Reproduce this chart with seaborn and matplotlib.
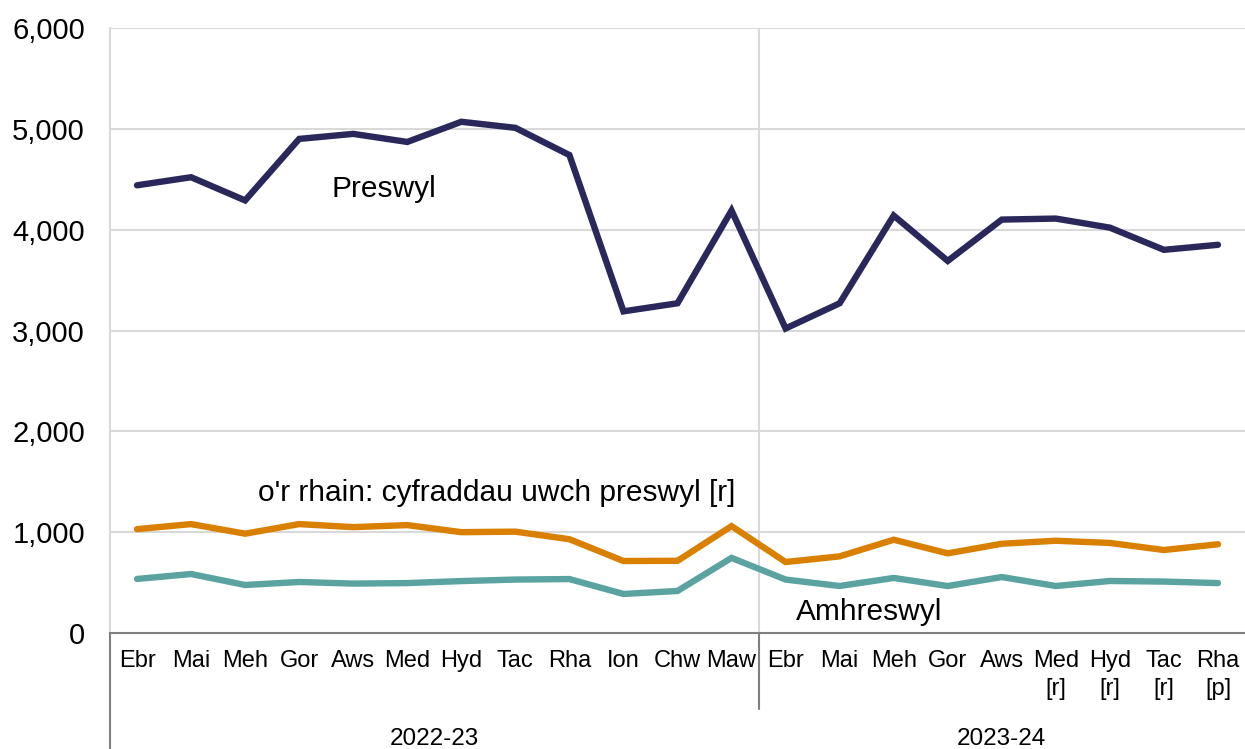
import numpy as np
import pandas as pd
import matplotlib
matplotlib.use("Agg")
import matplotlib.pyplot as plt
import matplotlib.transforms as mtrans
import seaborn as sns

months = ["Ebr", "Mai", "Meh", "Gor", "Aws", "Med", "Hyd", "Tac", "Rha", "Ion", "Chw", "Maw",
          "Ebr", "Mai", "Meh", "Gor", "Aws", "Med\n[r]", "Hyd\n[r]", "Tac\n[r]", "Rha\n[p]"]
years = ["2022-23", "2023-24"]

preswyl = [4440, 4520, 4290, 4900, 4950, 4870, 5070, 5010, 4740, 3190, 3270, 4190,
           3020, 3270, 4140, 3690, 4100, 4110, 4020, 3800, 3850]
uwch = [1030, 1080, 985, 1080, 1050, 1070, 1000, 1005, 930, 714, 716, 1060,
        704, 760, 925, 790, 885, 915, 893, 823, 880]
amhreswyl = [536, 585, 476, 506, 490, 495, 515, 530, 535, 387, 417, 745,
             530, 466, 546, 466, 555, 466, 516, 510, 495]

names = ["Preswyl", "o'r rhain: cyfraddau uwch preswyl [r]", "Amhreswyl"]
colors = ["#2a285b", "#d98000", "#5aa3a1"]

idx = np.arange(len(months))
df = pd.concat([
    pd.DataFrame({"x": idx, "value": preswyl, "series": names[0]}),
    pd.DataFrame({"x": idx, "value": uwch, "series": names[1]}),
    pd.DataFrame({"x": idx, "value": amhreswyl, "series": names[2]}),
])

sns.set_theme(style="white")
plt.rcParams["font.family"] = ["Liberation Sans", "DejaVu Sans"]

fig = plt.figure(figsize=(12.45, 7.49), dpi=100)
ax = fig.add_axes([110 / 1245, 116 / 749, 1135 / 1245, 605 / 749])

grid_c = "#d9d9d9"
axis_c = "#7f7f7f"

for v in range(1000, 7000, 1000):
    ax.axhline(v, color=grid_c, lw=1.5, zorder=0)
ax.axvline(11.5, color=grid_c, lw=1.5, zorder=0)

sns.lineplot(data=df, x="x", y="value", hue="series", palette=dict(zip(names, colors)),
             linewidth=4.6, legend=False, ax=ax, solid_capstyle="round",
             solid_joinstyle="miter")

ax.set_xlim(-0.5, len(months) - 0.5)
ax.set_ylim(0, 6000)
ax.set_yticks(range(0, 7000, 1000))
ax.set_yticklabels([f"{v:,}" for v in range(0, 7000, 1000)], fontsize=21, color="black")
ax.set_xticks(idx)
ax.set_xticklabels(months, fontsize=17, color="black", va="top", linespacing=1.4)
ax.tick_params(axis="both", length=0)
ax.tick_params(axis="x", pad=12)
ax.tick_params(axis="y", pad=18)
ax.set_xlabel("")
ax.set_ylabel("")

for s in ["top", "right"]:
    ax.spines[s].set_visible(False)
ax.spines["left"].set_color(grid_c)
ax.spines["left"].set_linewidth(1.5)
ax.spines["bottom"].set_color(axis_c)
ax.spines["bottom"].set_linewidth(1.5)

# group separators below the axis
trans = mtrans.blended_transform_factory(ax.transData, ax.transAxes)
ax.plot([-0.5, -0.5], [0, -0.2], color=axis_c, lw=1.5, transform=trans, clip_on=False)
ax.plot([11.5, 11.5], [0, -0.126], color=axis_c, lw=1.5, transform=trans, clip_on=False)

ax.text(5.5, -0.175, years[0], transform=trans, ha="center", va="center", fontsize=17.5, color="black")
ax.text(16.0, -0.175, years[1], transform=trans, ha="center", va="center", fontsize=17.5, color="black")

# series labels
ax.text(4.56, 4400, names[0], ha="center", va="center", fontsize=21.5, color="black")
ax.text(6.65, 1390, names[1], ha="center", va="center", fontsize=21.5, color="black")
ax.text(13.55, 210, names[2], ha="center", va="center", fontsize=21.5, color="black")

fig.savefig("out.png", dpi=100)
